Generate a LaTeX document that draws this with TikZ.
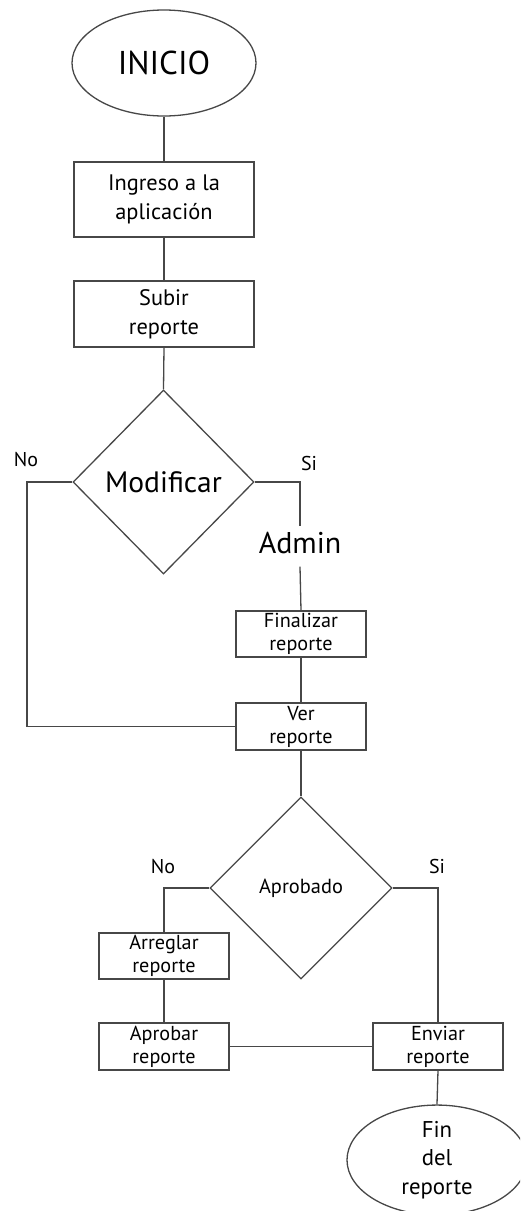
\documentclass[tikz,border=0pt]{standalone}
\usepackage{fontspec}
\setmainfont{PT Sans}
\usetikzlibrary{shapes.geometric}
\begin{document}
\begin{tikzpicture}[x=1pt,y=-1pt,line width=1.3pt,draw=black!72,text=black,
  bigbox/.style={draw,rectangle,minimum width=180pt,inner sep=0pt,align=center,
    font=\fontsize{22.4}{29}\selectfont},
  smallbox/.style={draw,rectangle,minimum width=130pt,minimum height=46pt,inner sep=0pt,align=center,
    font=\fontsize{20.2}{23}\selectfont},
  terminal/.style={draw,ellipse,inner sep=0pt,align=center},
  decision/.style={draw,diamond,inner sep=0pt,align=center},
  branch/.style={font=\fontsize{20}{22}\selectfont}]
\useasboundingbox (0,0) rectangle (520,1211);
\clip (0,0) rectangle (520,1211);
\fill[white] (0,0) rectangle (520,1211);

% upper part
\node[terminal,minimum width=184pt,minimum height=106pt,font=\fontsize{33}{36}\selectfont] (inicio) at (164,63) {INICIO};
\node[bigbox,minimum height=75pt] (ingreso) at (164,199.5) {Ingreso a la\\aplicación};
\node[bigbox,minimum height=66pt] (subir) at (164,314) {Subir\\reporte};
\node[decision,minimum width=181pt,minimum height=184pt,font=\fontsize{29.5}{32}\selectfont] (modif) at (163.5,482) {Modificar};
\node[font=\fontsize{30}{32}\selectfont,inner sep=0pt,minimum height=39pt,text height=13pt,text depth=0pt] (admin) at (300,546.5) {Admin};
\node[smallbox] (finalizar) at (301,634) {Finalizar\\reporte};
\node[smallbox,minimum height=47pt] (ver) at (301,726.5) {Ver\\reporte};

% lower part
\node[decision,minimum width=182pt,minimum height=182pt,font=\fontsize{20.4}{22}\selectfont] (aprob) at (301,888) {Aprobado};
\node[smallbox] (arreglar) at (164,956) {Arreglar\\reporte};
\node[smallbox,minimum height=47pt] (aprobar) at (164,1046.5) {Aprobar\\reporte};
\node[smallbox,minimum height=47pt] (enviar) at (438,1046.5) {Enviar\\reporte};
\node[terminal,minimum width=180pt,minimum height=104pt,font=\fontsize{22.8}{28.5}\selectfont] (fin) at (437,1160) {Fin\\del\\reporte};

% branch labels
\node[branch] (no1) at (26,460) {No};
\node[branch] (si1) at (309,463) {Si};
\node[branch] (no2) at (163,866) {No};
\node[branch] (si2) at (437,866) {Si};

\coordinate (noturn) at (27,482);

% connectors
\draw (inicio.south) -- (ingreso.north);
\draw (ingreso.south) -- (subir.north);
\draw (subir.south) -- (modif.north);
\draw (modif.west) -- (noturn) |- (ver.west);
\draw (modif.east) -| (admin.north);
\draw (admin.south) -- (finalizar.north);
\draw (finalizar.south) -- (ver.north);
\draw (ver.south) -- (aprob.north);
\draw (aprob.west) -| (arreglar.north);
\draw (arreglar.south) -- (aprobar.north);
\draw (aprobar.east) -- (enviar.west);
\draw (aprob.east) -| (enviar.north);
\draw (enviar.south) -- (fin.north);
\end{tikzpicture}
\end{document}
